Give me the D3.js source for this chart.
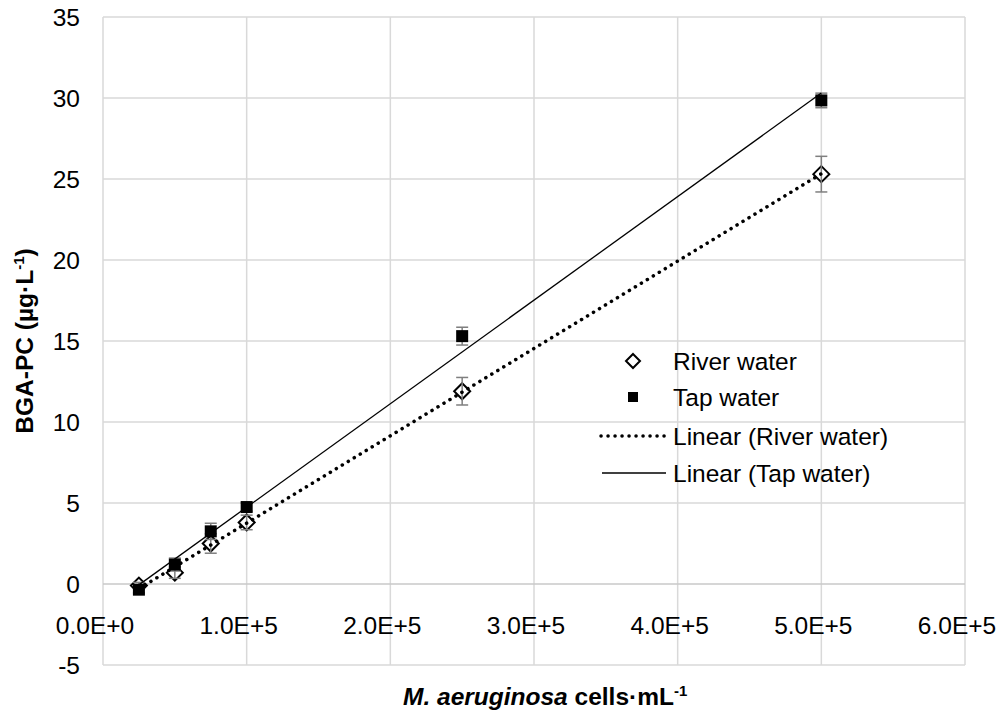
<!DOCTYPE html>
<html>
<meta charset="utf-8">
<script src="https://d3js.org/d3.v7.min.js"></script>
<head>
<style>
body { margin: 0; background: #fff; }
svg text { font-family: "Liberation Sans", Arial, sans-serif; fill: #000; }
</style>
</head>
<body>
<div id="chart"></div>
<script>

// data
var cells = [25000, 50000, 75000, 100000, 250000, 500000];
var river = [-0.1, 0.7, 2.5, 3.8, 11.9, 25.3];
var riverErr = [0.2, 0.35, 0.6, 0.45, 0.85, 1.1];
var tap = [-0.35, 1.2, 3.25, 4.75, 15.3, 29.85];
var tapErr = [0.2, 0.4, 0.5, 0.25, 0.55, 0.45];
var xTicks = [0, 100000, 200000, 300000, 400000, 500000, 600000];
var yTicks = [-5, 0, 5, 10, 15, 20, 25, 30, 35];
var legendLabels = ["River water", "Tap water", "Linear (River water)", "Linear (Tap water)"];

var width = 999,
    height = 715;

var svg = d3.select("#chart")
  .append("svg")
    .attr("width", width)
    .attr("height", height);

var x = d3.scaleLinear().domain([0, 600000]).range([103, 965]);
var y = d3.scaleLinear().domain([-5, 35]).range([665, 17]);

// excel style scientific label
function sci(d) {
  if (d === 0) return "0.0E+0";
  var e = Math.floor(Math.log10(d));
  return (d / Math.pow(10, e)).toFixed(1) + "E+" + e;
}

// gridlines
svg.selectAll("vgrid")
  .data(xTicks)
  .enter()
  .append("line")
    .attr("x1", function(d) { return x(d) })
    .attr("x2", function(d) { return x(d) })
    .attr("y1", y(35))
    .attr("y2", y(-5))
    .attr("stroke", "#d9d9d9")
    .attr("stroke-width", 1.5);

svg.selectAll("hgrid")
  .data(yTicks)
  .enter()
  .append("line")
    .attr("x1", x(0))
    .attr("x2", x(600000))
    .attr("y1", function(d) { return y(d) })
    .attr("y2", function(d) { return y(d) })
    .attr("stroke", function(d) { return d === 0 ? "#c8c8c8" : "#d9d9d9" })
    .attr("stroke-width", 1.5);

// tick labels
svg.selectAll("ylab")
  .data(yTicks)
  .enter()
  .append("text")
    .attr("x", 80)
    .attr("y", function(d) { return y(d) + 9 })
    .attr("text-anchor", "end")
    .style("font-size", "24.5px")
    .text(function(d) { return d });

svg.selectAll("xlab")
  .data(xTicks)
  .enter()
  .append("text")
    .attr("x", function(d) { return x(d) - 8 })
    .attr("y", 634)
    .attr("text-anchor", "middle")
    .style("font-size", "24.5px")
    .text(sci);

// axis titles
var xt = svg.append("text")
  .attr("x", 403)
  .attr("y", 705)
  .style("font-size", "24.5px")
  .style("font-weight", "bold");
xt.append("tspan").style("font-style", "italic").text("M. aeruginosa");
xt.append("tspan").text(" cells\u00b7mL");
xt.append("tspan").attr("dy", -9).style("font-size", "15px").text("-1");

var yt = svg.append("text")
  .attr("transform", "translate(33,341) rotate(-90)")
  .attr("text-anchor", "middle")
  .style("font-size", "24.5px")
  .style("font-weight", "bold");
yt.append("tspan").text("BGA-PC (\u00b5g\u00b7L");
yt.append("tspan").attr("dy", -9).style("font-size", "15px").text("-1");
yt.append("tspan").attr("dy", 9).text(")");

// least squares trendlines
function fit(xs, ys) {
  var mx = d3.mean(xs), my = d3.mean(ys);
  var sxy = d3.sum(xs, function(v, i) { return (v - mx) * (ys[i] - my) });
  var sxx = d3.sum(xs, function(v) { return (v - mx) * (v - mx) });
  var b = sxy / sxx;
  return function(v) { return my + b * (v - mx) };
}

var diamond = "M0,-8L8,0L0,8L-8,0Z";

function errorBars(vals, errs) {
  var g = svg.append("g").attr("stroke", "#7f7f7f").attr("stroke-width", 1.5);
  cells.forEach(function(c, i) {
    var cx = x(c), y0 = y(vals[i] - errs[i]), y1 = y(vals[i] + errs[i]);
    g.append("line").attr("x1", cx).attr("x2", cx).attr("y1", y0).attr("y2", y1);
    g.append("line").attr("x1", cx - 6).attr("x2", cx + 6).attr("y1", y0).attr("y2", y0);
    g.append("line").attr("x1", cx - 6).attr("x2", cx + 6).attr("y1", y1).attr("y2", y1);
  });
}

// river water
svg.selectAll("riverPts")
  .data(river)
  .enter()
  .append("path")
    .attr("d", diamond)
    .attr("transform", function(d, i) { return "translate(" + x(cells[i]) + "," + y(d) + ")" })
    .attr("fill", "white")
    .attr("stroke", "black")
    .attr("stroke-width", 2);
errorBars(river, riverErr);

// tap water
errorBars(tap, tapErr);
svg.selectAll("tapPts")
  .data(tap)
  .enter()
  .append("rect")
    .attr("x", function(d, i) { return x(cells[i]) - 6 })
    .attr("y", function(d) { return y(d) - 6 })
    .attr("width", 12)
    .attr("height", 12)
    .attr("fill", "black");

var riverFit = fit(cells, river),
    tapFit = fit(cells, tap);
var x0 = cells[0], x1 = cells[cells.length - 1];

svg.append("line")
  .attr("x1", x(x0)).attr("y1", y(riverFit(x0)))
  .attr("x2", x(x1)).attr("y2", y(riverFit(x1)))
  .attr("stroke", "black")
  .attr("stroke-width", 3.5)
  .attr("stroke-linecap", "round")
  .attr("stroke-dasharray", "0.1 6.9");

svg.append("line")
  .attr("x1", x(x0)).attr("y1", y(tapFit(x0)))
  .attr("x2", x(x1)).attr("y2", y(tapFit(x1)))
  .attr("stroke", "black")
  .attr("stroke-width", 1.3);

// legend
var rows = [361, 397, 436, 473];
svg.append("path")
  .attr("d", "M0,-7L7,0L0,7L-7,0Z")
  .attr("transform", "translate(633," + rows[0] + ")")
  .attr("fill", "white")
  .attr("stroke", "black")
  .attr("stroke-width", 2);
svg.append("rect")
  .attr("x", 628).attr("y", rows[1] - 5)
  .attr("width", 10).attr("height", 10)
  .attr("fill", "black");
svg.append("line")
  .attr("x1", 601).attr("x2", 666)
  .attr("y1", rows[2]).attr("y2", rows[2])
  .attr("stroke", "black")
  .attr("stroke-width", 3.5)
  .attr("stroke-linecap", "round")
  .attr("stroke-dasharray", "0.1 6.9");
svg.append("line")
  .attr("x1", 602).attr("x2", 666)
  .attr("y1", rows[3]).attr("y2", rows[3])
  .attr("stroke", "black")
  .attr("stroke-width", 1.3);

svg.selectAll("legText")
  .data(legendLabels)
  .enter()
  .append("text")
    .attr("x", 673)
    .attr("y", function(d, i) { return rows[i] + 8.5 })
    .style("font-size", "24.5px")
    .text(function(d) { return d });

</script>
</body>
</html>
